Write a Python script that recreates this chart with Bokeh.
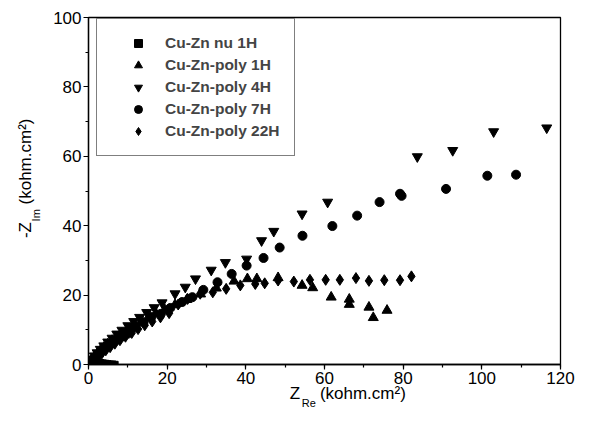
import math
from bokeh.plotting import figure
from bokeh.models import (Range1d, SingleIntervalTicker, FixedTicker, LinearAxis,
                          Legend, LegendItem)
from bokeh.embed import file_html
from bokeh.resources import INLINE

# ---- data (kohm.cm2) ----
nu1h_x = [0.2, 0.5, 0.9, 1.3, 1.8, 2.3, 2.8, 3.3, 3.9, 4.5, 5.1, 5.7, 6.3, 6.9]
nu1h_y = [0.3, 0.6, 0.8, 0.9, 0.9, 0.9, 0.8, 0.7, 0.6, 0.5, 0.4, 0.3, 0.3, 0.2]

p1h_x = [0.4, 0.9, 1.5, 2.2, 3.0, 3.9, 4.9, 6.0, 7.2, 8.5, 10.0, 11.6, 13.3, 15.2, 17.2, 19.4,
         22.0, 25.0, 28.5, 32.5, 37.0, 40.4, 42.8, 48.2, 54.3, 57.0, 61.7, 66.3, 66.3, 71.3, 72.4, 75.9]
p1h_y = [0.7, 1.5, 2.3, 3.1, 4.0, 4.9, 5.9, 6.9, 7.9, 8.9, 10.0, 11.1, 12.2, 13.4, 14.6, 15.8,
         17.2, 18.7, 20.3, 22.0, 24.0, 24.7, 24.7, 25.0, 22.8, 22.1, 19.4, 18.8, 17.3, 16.5, 13.5, 15.6]

p4h_x = [0.4, 0.9, 1.5, 2.2, 3.0, 3.9, 4.9, 6.0, 7.2, 8.5, 10.0, 11.5, 13.0, 14.8, 16.7, 18.7,
         22.0, 24.6, 27.2, 31.2, 34.8, 40.2, 44.0, 47.1, 54.3, 60.8, 83.6, 92.6, 103.0, 116.5]
p4h_y = [0.8, 1.6, 2.5, 3.4, 4.4, 5.4, 6.5, 7.6, 8.8, 9.9, 11.2, 12.4, 13.6, 15.0, 16.4, 17.8,
         20.4, 22.3, 24.7, 27.2, 29.4, 30.4, 35.7, 38.4, 43.4, 46.8, 59.9, 61.7, 67.1, 68.2]

p7h_x = [0.5, 1.0, 1.6, 2.3, 3.1, 4.0, 5.0, 6.1, 7.3, 8.6, 10.0, 12.0, 14.0, 16.0, 18.4, 20.8,
         23.8, 26.4, 29.2, 32.8, 36.4, 40.2, 44.5, 48.6, 54.4, 62.0, 68.3, 74.0, 79.2, 79.6,
         90.9, 101.4, 108.7]
p7h_y = [0.6, 1.2, 2.0, 2.8, 3.6, 4.5, 5.4, 6.3, 7.2, 8.1, 8.9, 10.8, 12.2, 13.7, 14.6, 16.3,
         18.0, 19.4, 21.5, 23.7, 26.1, 28.5, 30.7, 33.7, 37.1, 39.9, 42.9, 46.8, 49.2, 48.6,
         50.6, 54.4, 54.7]

p22h_x = [0.5, 1.0, 1.7, 2.5, 3.4, 4.4, 5.5, 6.7, 8.0, 9.4, 11.0, 12.6, 14.3, 16.2, 18.3, 20.5,
          22.8, 25.2, 28.4, 31.6, 35.0, 38.6, 42.4, 44.8, 48.2, 52.2, 56.3, 60.3, 63.9, 68.0,
          71.3, 75.2, 79.2, 82.1]
p22h_y = [0.4, 0.9, 1.6, 2.4, 3.2, 4.1, 5.0, 6.0, 7.0, 8.0, 9.1, 10.2, 11.3, 12.4, 13.6, 14.8,
          17.3, 18.9, 20.4, 20.8, 21.8, 22.8, 23.2, 23.4, 24.2, 23.9, 24.4, 24.4, 24.4, 24.9,
          24.1, 24.3, 24.3, 25.4]

legend_labels = ["Cu-Zn nu 1H", "Cu-Zn-poly 1H", "Cu-Zn-poly 4H", "Cu-Zn-poly 7H", "Cu-Zn-poly 22H"]

x_title_main = ["Z", "(kohm.cm\u00b2)"]
x_title_sub = ["Re"]
y_title_main = ["-Z", "(kohm.cm\u00b2)"]
y_title_sub = ["Im"]

FONT = "Liberation Sans"

p = figure(width=605, height=427, output_backend="svg", toolbar_location=None,
           x_range=Range1d(0, 120), y_range=Range1d(0, 100),
           min_border_left=88, min_border_right=45, min_border_top=17, min_border_bottom=63)
p.background_fill_color = "white"
p.border_fill_color = "white"
p.outline_line_color = "black"
p.outline_line_width = 1.3
p.xgrid.visible = False
p.ygrid.visible = False

for ax in (p.xaxis[0], p.yaxis[0]):
    ax.ticker = SingleIntervalTicker(interval=20, num_minor_ticks=2)
    ax.axis_line_color = "black"
    ax.axis_line_width = 1.3
    ax.major_tick_line_color = "black"
    ax.major_tick_line_width = 1.2
    ax.minor_tick_line_color = "black"
    ax.minor_tick_line_width = 1.2
    ax.major_tick_out = 5
    ax.major_tick_in = 0
    ax.minor_tick_out = 3
    ax.minor_tick_in = 0
    ax.major_label_text_font = FONT
    ax.major_label_text_font_size = "17px"
    ax.major_label_text_color = "black"
    ax.axis_label = None
p.xaxis[0].major_label_standoff = 2
p.yaxis[0].major_label_standoff = 2

r_nu = p.scatter(nu1h_x, nu1h_y, marker="square", size=5, color="black")
r_1h = p.scatter(p1h_x, p1h_y, marker="triangle", size=10, color="black")
r_4h = p.scatter(p4h_x, p4h_y, marker="inverted_triangle", size=10, color="black")
r_7h = p.scatter(p7h_x, p7h_y, marker="circle", size=9, color="black")
r_22h = p.scatter(p22h_x, p22h_y, marker="diamond", size=11, color="black")

legend = Legend(items=[LegendItem(label=l, renderers=[r]) for l, r in
                       zip(legend_labels, [r_nu, r_1h, r_4h, r_7h, r_22h])],
                location=(8, 208))
legend.border_line_color = "black"
legend.border_line_width = 1.2
legend.background_fill_color = "white"
legend.background_fill_alpha = 1.0
legend.label_text_font = FONT
legend.label_text_font_style = "bold"
legend.label_text_font_size = "15.5px"
legend.glyph_width = 54
legend.glyph_height = 20
legend.label_height = 20
legend.spacing = 2
legend.padding = 14
legend.margin = 0
legend.label_standoff = 0
p.add_layout(legend, "center")

# ---- axis titles: text-only axes stacked outside the main axes ----
def text_axis(ticks, labels, size, standoff, vertical=False):
    ax = LinearAxis(ticker=FixedTicker(ticks=ticks, minor_ticks=[]),
                    major_label_overrides={t: s for t, s in zip(ticks, labels)})
    ax.axis_line_color = None
    ax.major_tick_line_color = None
    ax.minor_tick_line_color = None
    ax.major_tick_out = 0
    ax.major_tick_in = 0
    ax.minor_tick_out = 0
    ax.minor_tick_in = 0
    ax.major_label_standoff = standoff
    ax.major_label_text_font = FONT
    ax.major_label_text_font_size = f"{size}px"
    ax.major_label_text_color = "black"
    if vertical:
        ax.major_label_orientation = "vertical"
    return ax

# x title: Z_Re (kohm.cm^2)
p.add_layout(text_axis([52.5, 69.75], x_title_main, 17, -3), "below")
p.add_layout(text_axis([56.0], x_title_sub, 11, -9), "below")

# y title: -Z_Im (kohm.cm^2), reading upwards
p.add_layout(text_axis([43.0], y_title_sub, 11, 8, vertical=True), "left")
p.add_layout(text_axis([38.75, 58.5], y_title_main, 17, -8, vertical=True), "left")

open("out.html", "w").write(file_html(p, INLINE))
